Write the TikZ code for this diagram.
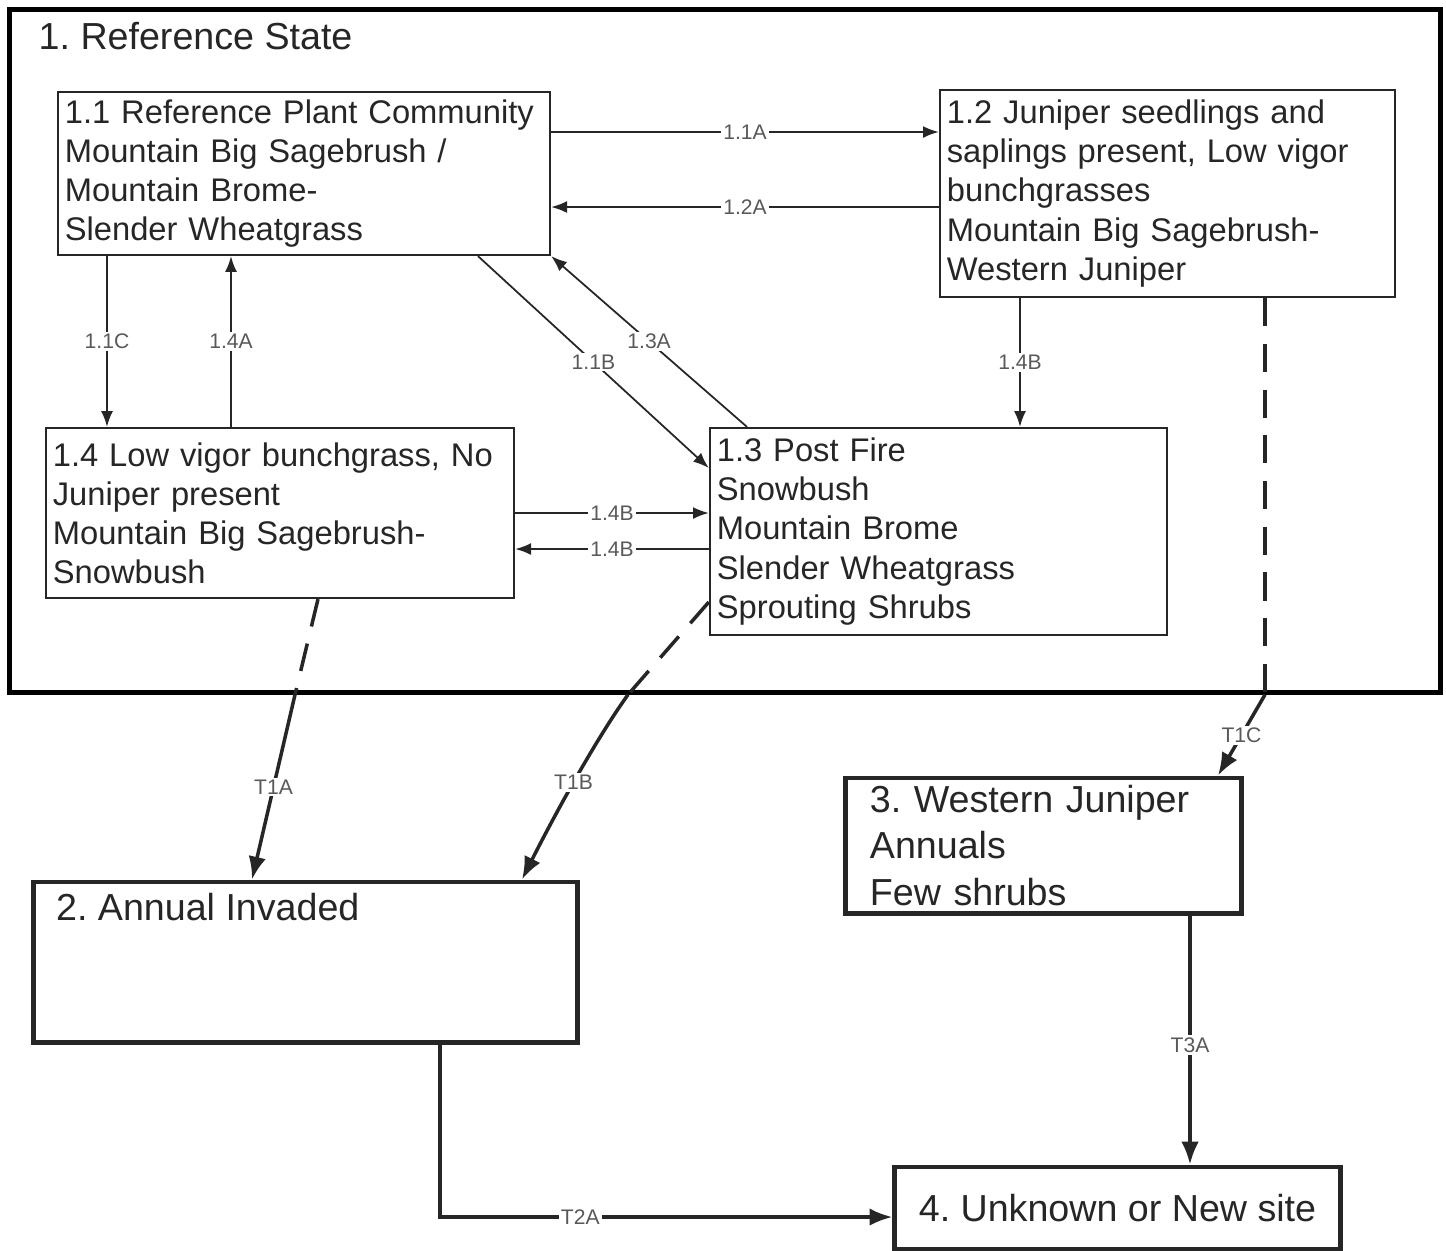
\documentclass[tikz,border=0pt]{standalone}
\usepackage{fontspec}
\setmainfont{Liberation Sans}
\frenchspacing
\usetikzlibrary{positioning, arrows.meta}
\tikzset{
>={Latex[length=4.5pt, width=3.4pt]}, % filled arrow heads
x=0.01cm, y=-0.01cm, % one unit is one pixel of the layout
box/.style={draw=black!85, line width=0.6pt, align=left, inner xsep=0.07cm, inner ysep=0pt, text=black!85, font=\fontsize{9.3}{11.1}\selectfont}, % community boxes
bigbox/.style={box, line width=1.4pt, inner xsep=0.24cm, font=\fontsize{10.7}{13.1}\selectfont}, % state boxes
path/.style={->, line width=0.5pt, black!85}, % pathways inside state 1
trans/.style={line width=1pt, black!85, >={Latex[length=6.5pt, width=5pt]}}, % transitions between states
lbl/.style={fill=white, inner sep=0.6pt, text=black!65, font=\fontsize{6}{7}\selectfont}, % small labels on the arrows
}

\begin{document}
\begin{tikzpicture}
    \useasboundingbox (0,0) rectangle (1446,1250);
    \node[draw=black, line width=1.4pt, minimum width=14.3cm, minimum height=6.82cm] (ref) at (725,351) {};
    \node[anchor=north west, inner sep=0pt, text=black!85, font=\fontsize{10.7}{13.1}\selectfont] (title) at (38,22) {1. Reference State};
    \node[box, minimum height=1.63cm, text width=4.78cm] (s11) at (304,173.5) {1.1 Reference Plant Community\\Mountain Big Sagebrush /\\Mountain Brome-\\Slender Wheatgrass};
    \node[box, minimum height=2.07cm, text width=4.41cm] (s12) at (1167.5,193.5) {1.2 Juniper seedlings and\\saplings present, Low vigor\\bunchgrasses\\Mountain Big Sagebrush-\\Western Juniper};
    \node[box, minimum height=1.70cm, text width=4.54cm] (s14) at (280,513) {1.4 Low vigor bunchgrass, No\\Juniper present\\Mountain Big Sagebrush-\\Snowbush};
    \node[box, minimum height=2.07cm, text width=4.43cm] (s13) at (938.5,531.5) {1.3 Post Fire\\Snowbush\\Mountain Brome\\Slender Wheatgrass\\Sprouting Shrubs};
    \node[bigbox, minimum width=5.43cm, minimum height=1.6cm, label={[anchor=north west, inner sep=0pt, xshift=0.24cm, yshift=-0.13cm, text=black!85, font=\fontsize{10.7}{13.1}\selectfont]north west:2. Annual Invaded}] (s2) at (305.5,962) {};
    \node[bigbox, minimum height=1.35cm, text width=3.47cm] (s3) at (1043.5,845.5) {3. Western Juniper\\Annuals\\Few shrubs};
    \node[bigbox, minimum width=4.45cm, minimum height=0.82cm] (s4) at (1117.5,1208) {4. Unknown or New site};
    \coordinate (t1a) at (ref.south -| 295,0);
    \coordinate (t1b) at (ref.south -| 628,0);
    \coordinate (t1c) at (ref.south -| 1265,0);
    % pathways
    \path[path] (s11.east |- 0,132) edge node[lbl]{1.1A} (s12.west |- 0,132)
    (s12.west |- 0,207) edge node[lbl]{1.2A} (s11.east |- 0,207)
    (s11.south -| 107,0) edge node[lbl]{1.1C} (s14.north -| 107,0)
    (s14.north -| 231,0) edge node[lbl]{1.4A} (s11.south -| 231,0)
    (s11.south -| 478,0) edge node[lbl]{1.1B} (s13.west |- 0,468)
    (s13.north -| 747,0) edge node[lbl]{1.3A} (s11.south east)
    (s12.south -| 1020,0) edge node[lbl]{1.4B} (s13.north -| 1020,0)
    (s14.east |- 0,513) edge node[lbl]{1.4B} (s13.west |- 0,513)
    (s13.west |- 0,549) edge node[lbl]{1.4B} (s14.east |- 0,549);
    % transitions
    \draw[trans, dash pattern=on 8pt off 5pt] (s14.south -| 318,0) -- (t1a);
    \draw[trans, dash pattern=on 8pt off 5pt] (s13.west |- 0,602) -- (t1b);
    \draw[trans, dash pattern=on 8pt off 5pt] (s12.south -| 1265,0) -- (t1c);
    \draw[trans, ->] (t1a) -- node[lbl]{T1A} (s2.north -| 252,0);
    \draw[trans, ->] (t1b) .. controls (594,742) and (552,820) .. node[lbl]{T1B} (s2.north -| 522,0);
    \draw[trans, ->] (t1c) -- node[lbl]{T1C} (s3.north -| 1218,0);
    \draw[trans, ->] (s3.south -| 1190,0) -- node[lbl, pos=0.52]{T3A} (s4.north -| 1190,0);
    \draw[trans, ->] (s2.south -| 440,0) |- node[lbl, pos=0.655]{T2A} (s4.west |- 0,1217);
  \end{tikzpicture}
\end{document}
